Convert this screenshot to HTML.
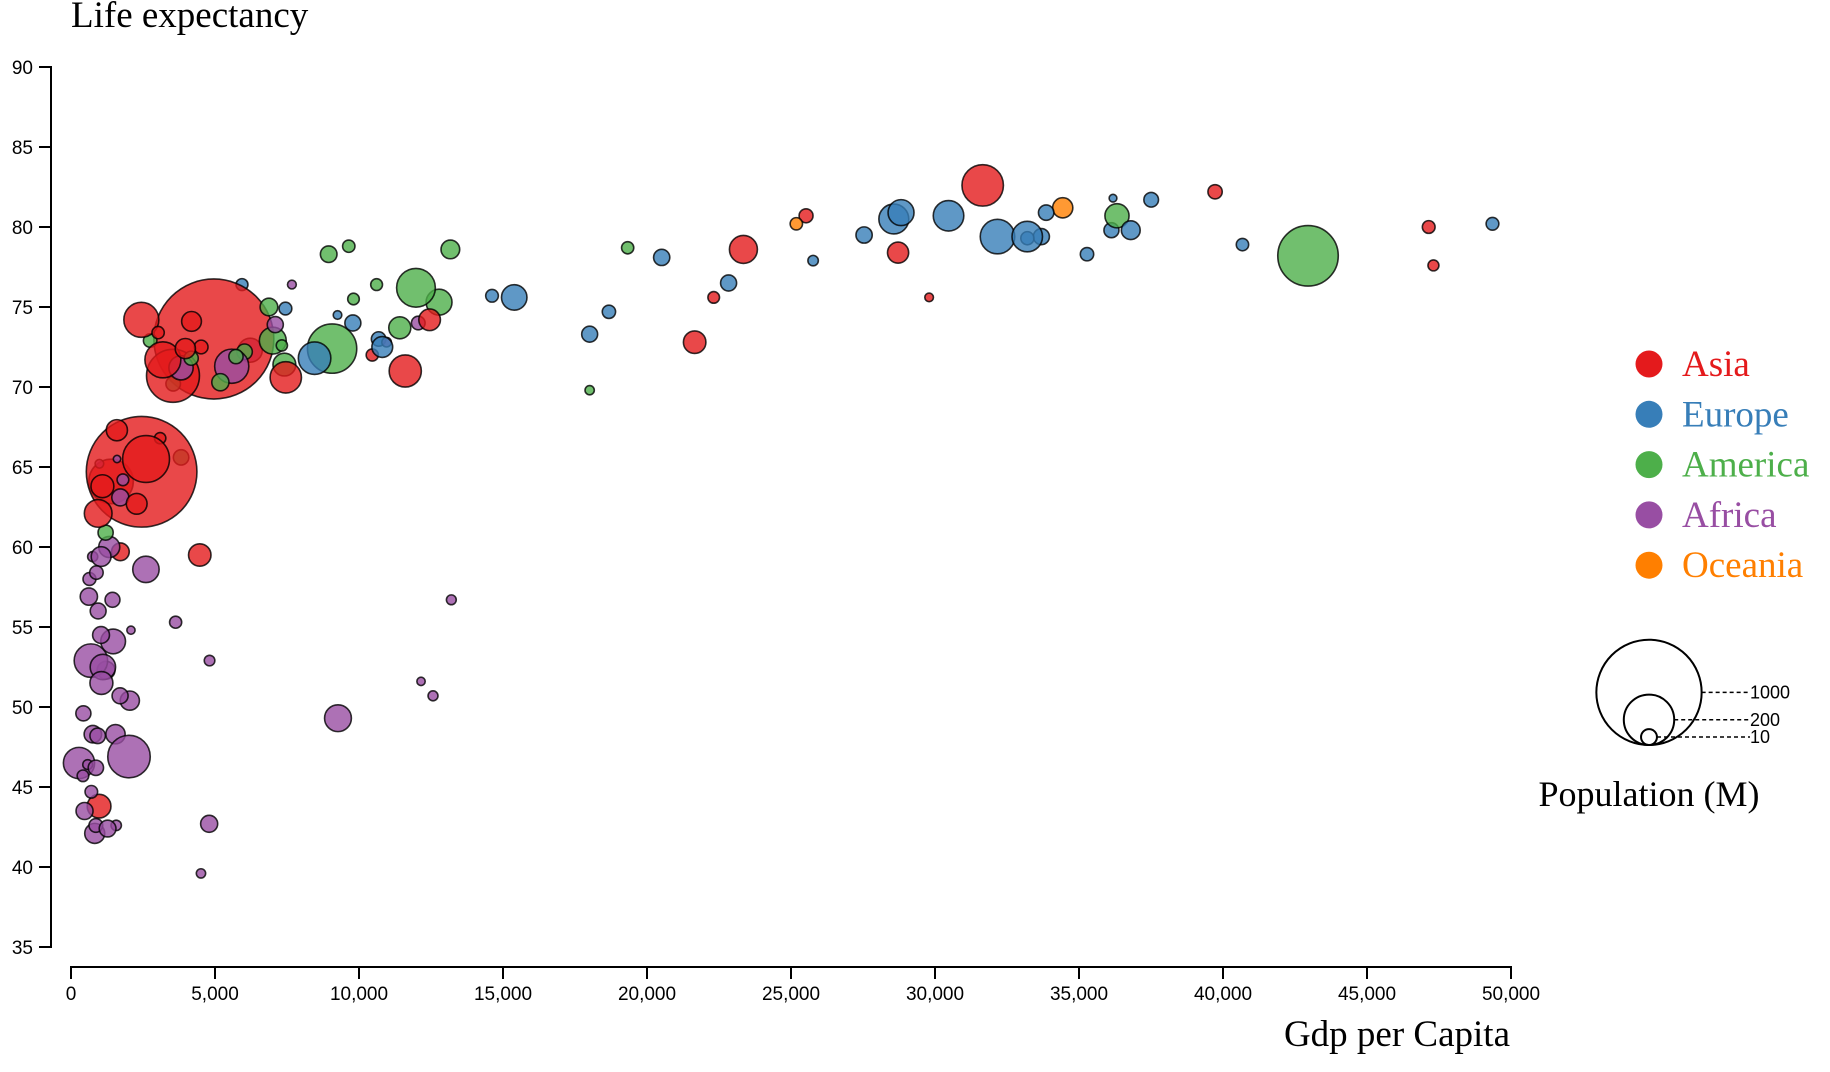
<!DOCTYPE html>
<html><head><meta charset="utf-8">
<style>
html,body{margin:0;padding:0;background:#fff;}
svg{display:block;}
.tick text{font-family:"Liberation Sans",sans-serif;font-size:19px;fill:#000;}
.serif{font-family:"Liberation Serif",serif;}
</style></head>
<body>
<svg id="chart" width="1830" height="1072" viewBox="0 0 1830 1072">
<text class="serif" x="71" y="27" font-size="37">Life expectancy</text>
<text class="serif" x="1510" y="1046" font-size="37" text-anchor="end">Gdp per Capita</text>
<g id="yaxis"></g>
<g id="xaxis"></g>
<g id="bubbles"></g>
<g id="legend"></g>
<g id="sizeLegend"></g>
<text class="serif" x="1649" y="806" font-size="36" text-anchor="middle">Population (M)</text>
</svg>
<script>
const continents = ["Asia","Europe","America","Africa","Oceania"];
const colors = ["#e41a1c","#377eb8","#4daf4a","#984ea3","#ff7f00"];
const xTicks = [0,5000,10000,15000,20000,25000,30000,35000,40000,45000,50000];
const yTicks = [35,40,45,50,55,60,65,70,75,80,85,90];
const sizeLegendValues = [1000,200,10];
const countries = ["Afghanistan","Albania","Algeria","Angola","Argentina","Australia","Austria","Bahrain","Bangladesh","Belgium","Benin","Bolivia","Bosnia","Botswana","Brazil","Bulgaria","Burkina Faso","Burundi","Cambodia","Cameroon","Canada","CAR","Chad","Chile","China","Colombia","Comoros","Congo DR","Congo Rep","Costa Rica","Cote d'Ivoire","Croatia","Cuba","Czech Rep","Denmark","Djibouti","Dominican Rep","Ecuador","Egypt","El Salvador","Eq Guinea","Eritrea","Ethiopia","Finland","France","Gabon","Gambia","Germany","Ghana","Greece","Guatemala","Guinea","Guinea-Bissau","Haiti","Honduras","Hong Kong","Hungary","Iceland","India","Indonesia","Iran","Iraq","Ireland","Israel","Italy","Jamaica","Japan","Jordan","Kenya","Korea DPR","Korea Rep","Kuwait","Lebanon","Lesotho","Liberia","Libya","Madagascar","Malawi","Malaysia","Mali","Mauritania","Mauritius","Mexico","Mongolia","Montenegro","Morocco","Mozambique","Myanmar","Namibia","Nepal","Netherlands","New Zealand","Nicaragua","Niger","Nigeria","Norway","Oman","Pakistan","Panama","Paraguay","Peru","Philippines","Poland","Portugal","Puerto Rico","Reunion","Romania","Rwanda","Sao Tome","Saudi Arabia","Senegal","Serbia","Sierra Leone","Singapore","Slovakia","Slovenia","Somalia","South Africa","Spain","Sri Lanka","Sudan","Swaziland","Sweden","Switzerland","Syria","Taiwan","Tanzania","Thailand","Togo","Trinidad","Tunisia","Turkey","Uganda","UK","US","Uruguay","Venezuela","Vietnam","West Bank","Yemen","Zambia","Zimbabwe"];
const continentIdx = [0,1,3,3,2,4,1,0,0,1,3,2,1,3,2,1,3,3,0,3,2,3,3,2,0,2,3,3,3,2,3,1,2,1,1,3,2,2,3,2,3,3,3,1,1,3,3,1,3,1,2,3,3,2,2,0,1,1,0,0,0,0,1,0,1,2,0,0,3,0,0,0,0,3,3,3,3,3,0,3,3,3,2,0,1,3,3,0,3,0,1,4,2,3,3,1,0,0,2,2,2,0,1,1,2,3,1,3,3,0,3,1,3,0,1,1,3,3,1,0,3,3,1,1,0,0,3,0,3,2,3,1,3,1,2,2,2,0,0,0,3,3];
const lifeExp = [43.8,76.4,72.3,42.7,75.3,81.2,79.8,75.6,64.1,79.4,56.7,65.6,74.9,50.7,72.4,73.0,52.3,49.6,59.7,50.4,80.7,44.7,50.7,78.6,73.0,72.9,65.2,46.5,55.3,78.8,48.3,75.7,78.3,76.5,78.3,54.8,72.2,75.0,71.3,71.9,51.6,58.0,52.9,79.3,80.7,56.7,59.4,79.4,60.0,79.5,70.3,56.0,46.4,60.9,70.2,82.2,73.3,81.8,64.7,70.7,71.0,59.5,78.9,80.7,80.5,72.6,82.6,72.5,54.1,67.3,78.6,77.6,72.0,42.6,45.7,74.0,59.4,48.3,74.2,54.5,64.2,72.8,76.2,66.8,74.5,71.2,42.1,62.1,52.9,63.8,79.8,80.2,72.9,56.9,46.9,80.2,75.6,65.5,75.5,71.8,71.4,71.7,75.6,78.1,78.7,76.4,72.5,46.2,65.5,72.8,63.1,74.0,42.6,80.0,74.7,77.9,48.2,49.3,80.9,72.4,58.6,39.6,80.9,81.7,74.1,78.4,52.5,70.6,58.4,69.8,73.9,71.8,51.5,79.4,78.2,76.4,73.7,74.2,73.4,62.7,42.4,43.5];
const population = [31.9,3.6,33.3,12.4,40.3,20.4,8.2,0.71,150.4,10.4,8.1,9.1,4.6,1.6,190.0,7.3,14.3,8.4,14.1,17.7,33.4,4.4,10.2,16.3,1318.7,44.2,0.71,64.6,3.8,4.1,18.0,4.5,11.4,10.2,5.5,0.5,9.3,13.8,80.3,6.9,0.55,4.9,76.5,5.2,61.1,1.5,1.7,82.4,22.9,10.7,12.6,9.9,1.5,8.5,7.5,7.0,10.0,0.3,1110.4,223.5,69.5,27.5,4.1,6.4,58.1,2.8,127.5,6.1,35.6,23.3,49.0,2.5,3.9,2.0,3.2,6.0,19.2,13.3,24.8,12.0,3.3,1.3,108.7,2.9,0.68,33.8,20.0,47.8,2.1,28.9,16.6,4.1,5.7,12.9,135.0,4.6,3.2,169.3,3.2,6.7,28.7,91.1,38.5,10.6,3.9,0.8,22.3,8.9,0.2,27.6,12.3,10.2,6.1,4.6,5.4,2.0,9.1,44.0,40.4,20.4,42.3,1.1,9.0,7.6,19.3,23.2,38.1,65.1,5.7,1.1,10.3,71.2,29.2,60.8,301.1,3.4,26.1,85.3,4.0,22.2,11.7,12.3];
const gdp = [975,5937,6223,4797,12779,34435,36126,29796,1391,33693,1441,3822,7446,12570,9066,10681,1217,430,1714,2042,36319,706,1704,13172,4959,7007,986,278,3633,9645,1545,14619,8948,22833,35278,2082,6025,6873,5581,5728,12154,641,691,33207,30470,13206,753,32170,1328,27538,5186,943,579,1202,3548,39725,18009,36181,2452,3541,11606,4471,40676,25523,28570,7321,31656,4519,1463,1593,23348,47307,10461,1569,415,12058,1045,759,12452,1043,1803,10957,11978,3096,9254,3820,824,944,4811,1091,36798,25185,2749,620,2014,49357,22316,2606,9809,4173,7409,3190,15390,20510,19329,7670,10808,863,1598,21655,1712,9787,863,47143,18678,25768,926,9270,28821,3970,2602,4513,33860,37506,4185,28718,1107,7458,883,18009,7093,8458,1056,33203,42952,10611,11416,2442,3025,2281,1271,470];

const NS = "http://www.w3.org/2000/svg";
function mk(tag, attrs, parent){const e=document.createElementNS(NS,tag);for(const k in attrs)e.setAttribute(k,attrs[k]);parent.appendChild(e);return e;}
const X0=71, X1=1511, Y0=947, Y1=67;
function xScale(v){return X0+(v-0)/(50000-0)*(X1-X0);}
function yScale(v){return Y0-(v-35)/(90-35)*(Y0-Y1);}
function rScale(p){return 3+1.57*Math.sqrt(p);}

const ya=document.getElementById('yaxis');
const yl=mk('path',{d:`M39,${Y1}H51V${Y0}H39`,fill:'none',stroke:'#000','stroke-width':2},ya);


yTicks.forEach(t=>{
  const g=mk('g',{class:'tick'},ya);
  
  
  mk('line',{x1:39,x2:51,y1:yScale(t),y2:yScale(t),stroke:'#000','stroke-width':2},g);
  const tx=mk('text',{x:33,y:yScale(t)+7,'text-anchor':'end'},g);tx.textContent=t;
});
const xa=document.getElementById('xaxis');
const xl=mk('path',{d:`M${X0},979V967H${X1}V979`,fill:'none',stroke:'#000','stroke-width':2},xa);


xTicks.forEach(t=>{
  const g=mk('g',{class:'tick'},xa);
  
  
  mk('line',{x1:xScale(t),x2:xScale(t),y1:967,y2:979,stroke:'#000','stroke-width':2},g);
  const tx=mk('text',{x:xScale(t),y:1000,'text-anchor':'middle'},g);tx.textContent=t.toLocaleString('en-US');
});
const bg=document.getElementById('bubbles');
countries.forEach((c,i)=>{
  const el=mk('circle',{cx:xScale(gdp[i]),cy:yScale(lifeExp[i]),r:rScale(population[i]),fill:colors[continentIdx[i]],'fill-opacity':0.8,stroke:'#000','stroke-opacity':0.8,'stroke-width':1.6},bg);
  
  
});
const lg=document.getElementById('legend');
continents.forEach((c,i)=>{
  const g=mk('g',{},lg);
  
  
  const y=364+i*50.3;
  mk('circle',{cx:1649,cy:y,r:13.5,fill:colors[i]},g);
  const t=mk('text',{x:1682,y:y+12,fill:colors[i],'font-size':37,class:'serif'},g);t.textContent=c;
});
const sl=document.getElementById('sizeLegend');
const baseY=745;
sizeLegendValues.forEach(v=>{
  const r=rScale(v);
  const g=mk('g',{},sl);
  
  
  mk('circle',{cx:1649,cy:baseY-r,r:r,fill:'none',stroke:'#000','stroke-width':2},g);
  const ly = v===10 ? baseY-8 : baseY-r;
  const lx = v===10 ? 1657 : 1649+r;
  mk('line',{x1:lx,x2:1750,y1:ly,y2:ly,stroke:'#000','stroke-dasharray':'4,3','stroke-width':1.5},g);
  const t=mk('text',{x:1750,y:ly+6,'font-size':18,'font-family':'Liberation Sans, sans-serif'},g);t.textContent=v;
});
</script>
</body></html>
